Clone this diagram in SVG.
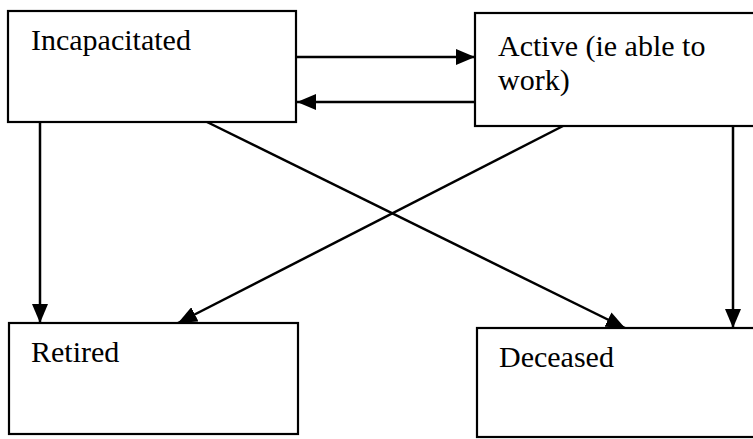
<svg xmlns="http://www.w3.org/2000/svg" width="753" height="439" viewBox="0 0 753 439">
<style>
.box{fill:#fff;stroke:#000;stroke-width:2.2}
.lbl{font-size:30px;fill:#000}
.conn{stroke:#000;stroke-width:2.5;fill:none;marker-end:url(#ah)}
</style>
<defs>
<marker id="ah" markerUnits="userSpaceOnUse" markerWidth="19" markerHeight="16" refX="19" refY="8" orient="auto">
<path d="M0,0 L19,8 L0,16 z" fill="#000"/>
</marker>
</defs>
<rect width="753" height="439" fill="#fff"/>
<g font-family="'Liberation Serif', 'DejaVu Serif', serif">
<g id="incapacitated"><rect class="box" x="8" y="11" width="288" height="111"/><text class="lbl" x="31" y="50">Incapacitated</text></g>
<g id="active"><rect class="box" x="475" y="13" width="290" height="113"/><text class="lbl" x="498" y="56">Active (ie able to</text><text class="lbl" x="498" y="90">work)</text></g>
<g id="retired"><rect class="box" x="9" y="323" width="289" height="111"/><text class="lbl" x="31" y="362">Retired</text></g>
<g id="deceased"><rect class="box" x="477" y="328" width="290" height="109"/><text class="lbl" x="499" y="367">Deceased</text></g>
</g>
<g id="connectors">
<line class="conn" x1="296" y1="57" x2="475" y2="57"/>
<line class="conn" x1="475" y1="102" x2="297" y2="102"/>
<line class="conn" x1="40" y1="122" x2="40" y2="323"/>
<line class="conn" x1="563" y1="126" x2="178" y2="323"/>
<line class="conn" x1="207" y1="122" x2="625" y2="328"/>
<line class="conn" x1="733" y1="126" x2="733" y2="328"/>
</g>
</svg>
